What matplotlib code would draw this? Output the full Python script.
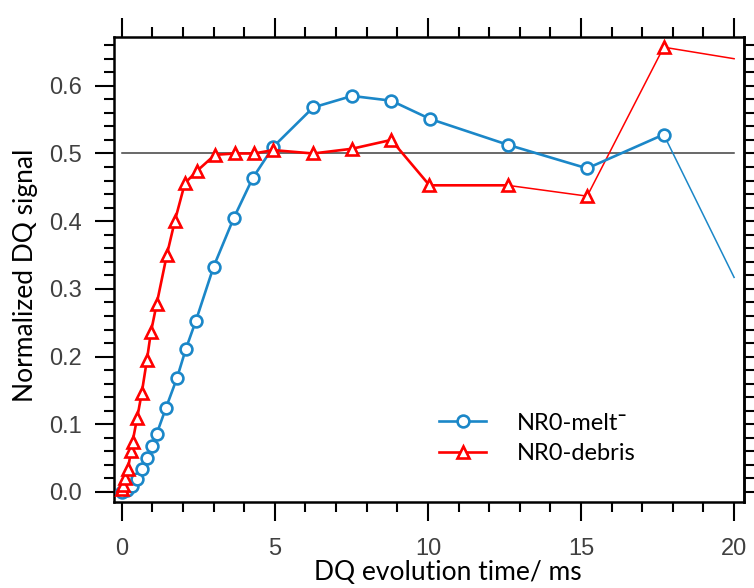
import numpy as np
import matplotlib
matplotlib.use('Agg')
import matplotlib.pyplot as plt
from matplotlib.lines import Line2D
from matplotlib.ticker import MultipleLocator, FormatStrFormatter, NullFormatter

# NR0-melt (blue circles)
melt_t = [0, 0.16, 0.33, 0.49, 0.65, 0.82, 0.98, 1.14, 1.44, 1.8, 2.09, 2.42, 3.0,
          3.66, 4.28, 4.95, 6.25, 7.52, 8.8, 10.07, 12.6, 15.2, 17.7, 20.0]
melt_y = [0.0, 0.003, 0.009, 0.019, 0.034, 0.05, 0.068, 0.086, 0.124, 0.168, 0.211, 0.253, 0.333,
          0.405, 0.464, 0.51, 0.568, 0.585, 0.578, 0.551, 0.513, 0.478, 0.528, 0.317]

# NR0-debris (red triangles)
debris_t = [0, 0.05, 0.1, 0.2, 0.3, 0.35, 0.5, 0.65, 0.82, 0.95, 1.14, 1.47, 1.73, 2.06,
            2.45, 3.04, 3.69, 4.31, 4.95, 6.25, 7.52, 8.8, 10.05, 12.6, 15.2, 17.7, 20.0]
debris_y = [0.005, 0.01, 0.02, 0.034, 0.06, 0.074, 0.109, 0.146, 0.195, 0.236, 0.278, 0.35, 0.40, 0.456,
            0.474, 0.498, 0.5, 0.5, 0.505, 0.5, 0.507, 0.52, 0.453, 0.453, 0.437, 0.657, 0.64]

ref_level = 0.5

blue = '#1B87C8'
red = '#FF0000'
label_font = 'Lato'
tick_font = 'Liberation Sans'

fig = plt.figure(figsize=(7.54, 5.88), dpi=100)
ax = fig.add_axes([0.151, 0.146, 0.836, 0.791])

# reference line at 0.5
ax.plot([0, 20], [ref_level, ref_level], color='#404040', linewidth=1.1, zorder=1)

# blue: markers everywhere except the last point, thinner tail
ax.plot(melt_t[:-1], melt_y[:-1], color=blue, linewidth=1.9, marker='o', markersize=8.5,
        markerfacecolor='white', markeredgecolor=blue, markeredgewidth=1.9, zorder=3)
ax.plot(melt_t[-2:], melt_y[-2:], color=blue, linewidth=1.1, zorder=2)

# red
ax.plot(debris_t[:-3], debris_y[:-3], color=red, linewidth=1.9, zorder=3)
ax.plot(debris_t[-4:], debris_y[-4:], color=red, linewidth=1.1, zorder=2)
ax.plot(debris_t[:-1], debris_y[:-1], linestyle='none', marker='^', markersize=9,
        markerfacecolor='white', markeredgecolor=red, markeredgewidth=1.9, zorder=4)

ax.set_xlim(-0.26, 20.33)
ax.set_ylim(-0.015, 0.672)

ax.xaxis.set_major_locator(MultipleLocator(5))
ax.xaxis.set_minor_locator(MultipleLocator(1))
ax.yaxis.set_major_locator(MultipleLocator(0.1))
ax.yaxis.set_minor_locator(MultipleLocator(0.02))
ax.yaxis.set_major_formatter(FormatStrFormatter('%.1f'))

for s in ax.spines.values():
    s.set_linewidth(1.8)

ax.tick_params(which='both', direction='out', top=True, right=False, width=1.5,
               colors='black', labelcolor='#404040', labelsize=17)
ax.tick_params(which='major', length=14)
ax.tick_params(which='minor', length=7)
ax.tick_params(axis='x', which='major', pad=12)
ax.tick_params(axis='y', which='major', pad=9)
for lab in ax.get_xticklabels() + ax.get_yticklabels():
    lab.set_fontfamily(tick_font)

# right side: short ticks only, every 0.02
sec = ax.secondary_yaxis('right')
sec.yaxis.set_major_locator(MultipleLocator(0.02))
sec.yaxis.set_major_formatter(NullFormatter())
sec.tick_params(direction='out', length=7, width=1.5)
sec.spines['right'].set_linewidth(1.8)

ax.set_xlabel('DQ evolution time/ ms', fontsize=19, fontfamily=label_font)
ax.set_ylabel('Normalized DQ signal', fontsize=19, fontfamily=label_font)
ax.xaxis.set_label_coords(0.53, -0.125)
ax.yaxis.set_label_coords(-0.121, 0.487)

handles = [
    Line2D([], [], color=blue, linewidth=1.9, marker='o', markersize=8.5,
           markerfacecolor='white', markeredgecolor=blue, markeredgewidth=1.9),
    Line2D([], [], color=red, linewidth=1.9, marker='^', markersize=9,
           markerfacecolor='white', markeredgecolor=red, markeredgewidth=1.9),
]
ax.legend(handles, ['NR0-melt\u00af', 'NR0-debris'], loc='center left',
          bbox_to_anchor=(0.482, 0.137), frameon=False, handlelength=2.0,
          handletextpad=1.3, labelspacing=0.4,
          prop={'family': label_font, 'size': 17})

fig.savefig('out.png', dpi=100)
